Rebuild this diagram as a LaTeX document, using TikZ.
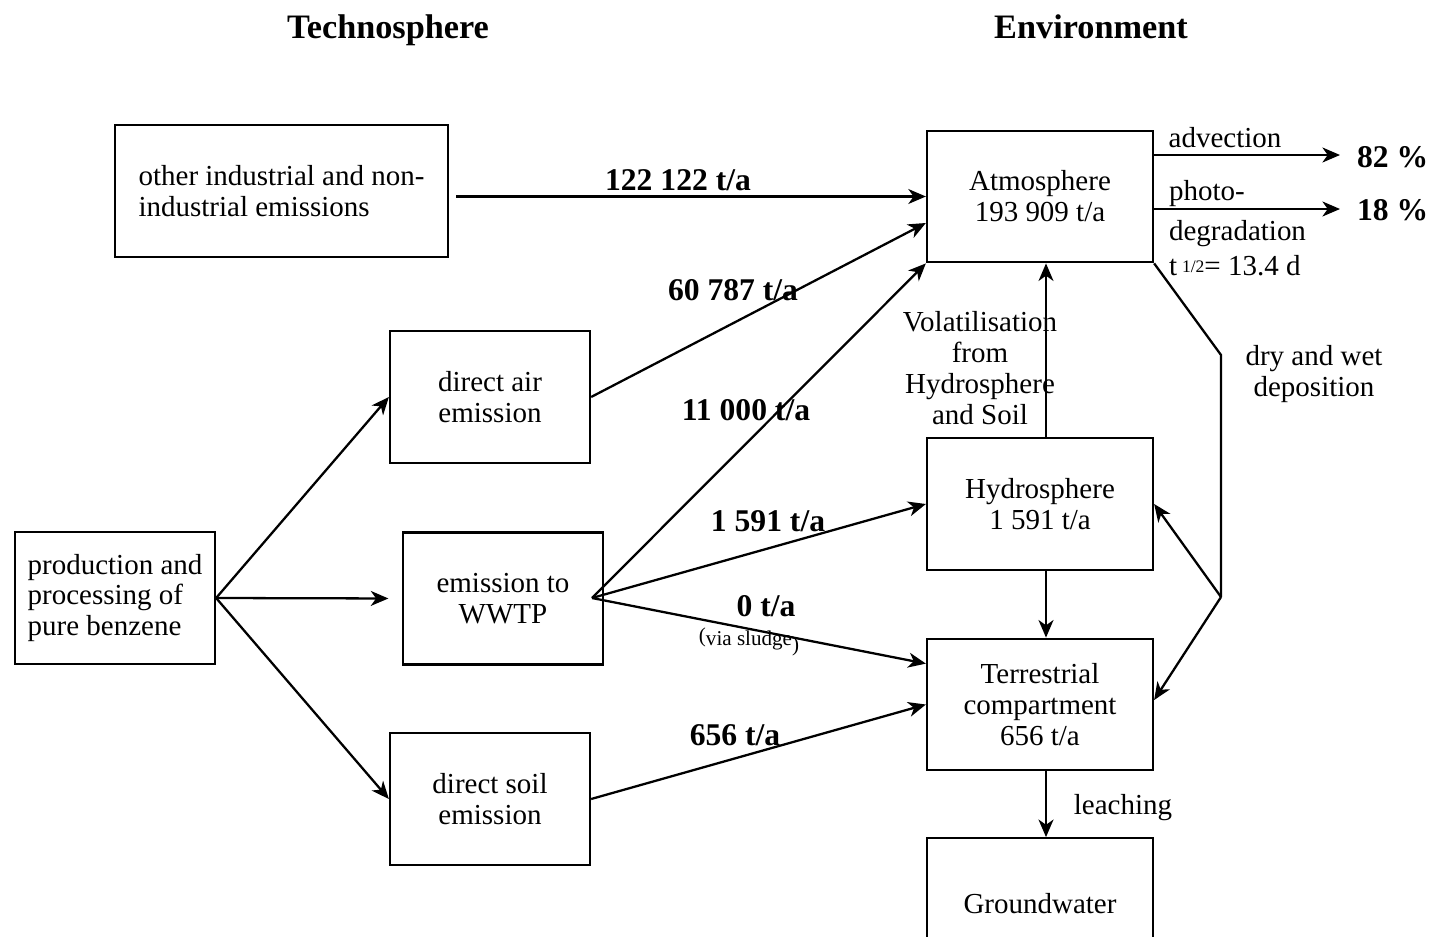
\documentclass[tikz,border=0pt]{standalone}
\usepackage{fontspec}
\setmainfont{Liberation Serif}
\usetikzlibrary{arrows.meta}
\newcommand{\boxfont}{\fontsize{16.5}{17.6}\selectfont}
\newcommand{\amountfont}{\fontsize{18}{20}\selectfont\bfseries}
\newcommand{\smallfont}{\fontsize{12}{12}\selectfont}
\tikzset{
  box/.style={draw, line width=1.3pt, minimum width=4cm, minimum height=2.64cm,
              align=center, font=\boxfont, inner sep=2pt},
  envbox/.style={box, minimum width=4.52cm, minimum height=2.63cm},
  flow/.style={-{Stealth[length=10pt, width=8.5pt, inset=3pt]}, line width=1.3pt},
  plain/.style={line width=1.3pt},
  amount/.style={font=\amountfont, inner sep=1pt},
  note/.style={font=\boxfont, align=center, inner sep=1pt},
  title/.style={font=\fontsize{19.5}{22}\selectfont\bfseries, anchor=base},
}

\begin{document}
\begin{tikzpicture}[x=0.02cm, y=-0.02cm]
  \clip (0,0) rectangle (1432,936);
  % titles
  \node[title] (techno) at (388,39) {Technosphere};
  \node[title] (envir) at (1091,39) {Environment};

  % technosphere
  \node[box, minimum width=6.66cm, align=left] (other) at (281.5,191) {other industrial and non-\\industrial emissions};
  \node[box, align=left] (prod) at (115,598) {production and\\processing of\\pure benzene};
  \node[box] (air) at (490,397) {direct air\\emission};
  \node[box] (wwtp) at (503,598.5) {emission to\\WWTP};
  \node[box] (soil) at (490,799) {direct soil\\emission};

  % environment
  \node[envbox] (atmo) at (1040,196.5) {Atmosphere\\193 909 t/a};
  \node[envbox] (hydro) at (1040,504) {Hydrosphere\\1 591 t/a};
  \node[envbox] (terr) at (1040,704.5) {Terrestrial\\compartment\\656 t/a};
  \node[envbox] (ground) at (1040,904) {Groundwater};

  % helper points
  \coordinate (fan) at (592,598);
  \coordinate (adv) at (1340,155);
  \coordinate (photo) at (1340,209);
  \coordinate (bend) at (1221,355);
  \coordinate (split) at (1221,597);

  % emission paths
  \draw[flow] (prod.east) -- (air.west);
  \draw[flow, shorten >=0.27cm] (prod.east) -- (wwtp.west);
  \draw[flow] (prod.east) -- (soil.west);
  \draw[flow, shorten <=0.14cm] (other.east |- atmo.west) -- (atmo.west);
  \draw[flow] (air.east) -- ([yshift=-0.53cm]atmo.west);
  \draw[flow] (fan) -- (atmo.south west);
  \draw[flow] (fan) -- (hydro.west);
  \draw[flow] (fan) -- ([yshift=-0.52cm]terr.north west);
  \draw[flow] (soil.east) -- (terr.west);

  % transfers between compartments
  \draw[flow] ([xshift=0.12cm]hydro.north) -- ([xshift=0.12cm]atmo.south);
  \draw[flow] ([xshift=0.12cm]hydro.south) -- ([xshift=0.12cm]terr.north);
  \draw[flow] ([xshift=0.12cm]terr.south) -- ([xshift=0.12cm]ground.north);
  \draw[flow] (atmo.east |- adv) -- (adv);
  \draw[flow] (atmo.east |- photo) -- (photo);
  \draw[plain] (atmo.south east) -- (bend) -- (split);
  \draw[flow] (split) -- (hydro.east);
  \draw[flow] (split) -- ([yshift=0.09cm]terr.east);

  % amounts
  \node[amount] (l-other) at (678,180) {122 122 t/a};
  \node[amount] (l-air) at (733,290) {60 787 t/a};
  \node[amount] (l-wwtp-atmo) at (746,410) {11 000 t/a};
  \node[amount] (l-wwtp-hydro) at (768,521) {1 591 t/a};
  \node[amount] (l-wwtp-terr) at (766,606) {0 t/a};
  \node[note, font=\smallfont] (l-sludge) at (749,642) {\raisebox{0.35ex}{(}via sludge\raisebox{-0.6ex}{)}};
  \node[amount] (l-soil) at (735,735) {656 t/a};
  \node[amount, anchor=base west] (p-adv) at (1355,167) {82 \%};
  \node[amount, anchor=base west] (p-photo) at (1355,220) {18 \%};

  % process labels
  \node[note, anchor=base] (l-adv) at (1225,147) {advection};
  \node[note, anchor=base west] (l-photo) at (1167,200) {photo-};
  \node[note, anchor=base west] (l-degr) at (1167,240) {degradation};
  \node[note, anchor=base west] (l-half) at (1167,275) {t\,{\fontsize{10}{10}\selectfont\raisebox{0.35ex}{1/2}}= 13.4 d};
  \node[note] (l-vol) at (980,368) {Volatilisation\\from\\Hydrosphere\\and Soil};
  \node[note] (l-dep) at (1314,374) {dry and wet\\deposition};
  \node[note] (l-leach) at (1123,808) {leaching};
\end{tikzpicture}
\end{document}
